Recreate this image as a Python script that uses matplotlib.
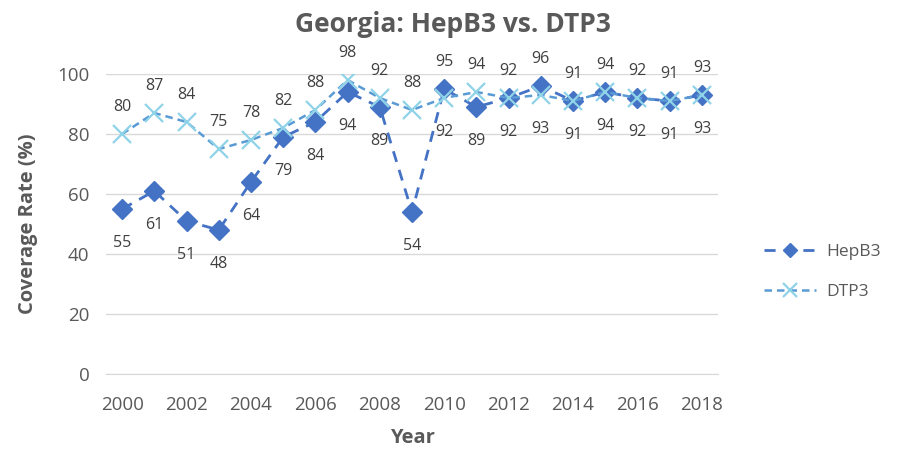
import matplotlib.pyplot as plt

years = list(range(2000, 2019))
hepb3 = [55, 61, 51, 48, 64, 79, 84, 94, 89, 54, 95, 89, 92, 96, 91, 94, 92, 91, 93]
dtp3 = [80, 87, 84, 75, 78, 82, 88, 98, 92, 88, 92, 94, 92, 93, 91, 94, 92, 91, 93]

plt.rcParams['font.family'] = ['Open Sans', 'DejaVu Sans']
grey = '#595959'

fig = plt.figure(figsize=(9.06, 4.55), dpi=100)
ax = fig.add_axes([106 / 906, 1 - 374 / 455, (718 - 106) / 906, 300 / 455])

x = list(range(len(years)))
ax.plot(x, hepb3, color='#4472C4', linestyle=(0, (4, 3)), linewidth=2,
        marker='D', markersize=10, markerfacecolor='#4472C4',
        markeredgecolor='#4472C4', label='HepB3', zorder=3)
ax.plot(x, dtp3, color='#5B9BD5', linestyle=(0, (3, 2)), linewidth=1.8,
        marker='x', markersize=13, markeredgewidth=1.6,
        markeredgecolor='#8FD3E8', label='DTP3', zorder=4)

# data labels: higher value above, lower value below
for i in x:
    h, d = hepb3[i], dtp3[i]
    if h > d:
        top, bottom = h, d
    else:
        top, bottom = d, h
    ax.annotate(str(top), (i, top), xytext=(0, 14), textcoords='offset points',
                ha='center', va='bottom', fontsize=11.5, color='#404040',
                annotation_clip=False)
    ax.annotate(str(bottom), (i, bottom), xytext=(0, -19), textcoords='offset points',
                ha='center', va='top', fontsize=11.5, color='#404040',
                annotation_clip=False)

ax.set_xlim(-0.5, len(years) - 0.5)
ax.set_ylim(0, 100)
ax.set_yticks(range(0, 101, 20))
ax.set_xticks(x[::2])
ax.set_xticklabels([str(y) for y in years[::2]])
ax.tick_params(axis='both', length=0, labelsize=13.5, colors=grey)
ax.tick_params(axis='x', pad=16)
ax.tick_params(axis='y', pad=12)
ax.grid(axis='y', color='#D9D9D9', linewidth=1)
ax.set_axisbelow(True)
for s in ax.spines.values():
    s.set_visible(False)
ax.spines['bottom'].set_visible(True)
ax.spines['bottom'].set_color('#D9D9D9')

ax.set_xlabel('Year', fontsize=14.5, fontweight='bold', color=grey, labelpad=10)
ax.set_ylabel('Coverage Rate (%)', fontsize=14.5, fontweight='bold', color=grey, labelpad=14)
fig.suptitle('Georgia: HepB3 vs. DTP3', x=0.5, y=0.975, fontsize=19,
             fontweight='bold', color=grey)

leg = ax.legend(loc='center left', bbox_to_anchor=(1.05, 0.34), frameon=False,
                fontsize=12.5, labelspacing=1.4, handlelength=3.0,
                handletextpad=0.6, markerscale=0.75)
for t in leg.get_texts():
    t.set_color(grey)

fig.savefig('out.png', dpi=100)
